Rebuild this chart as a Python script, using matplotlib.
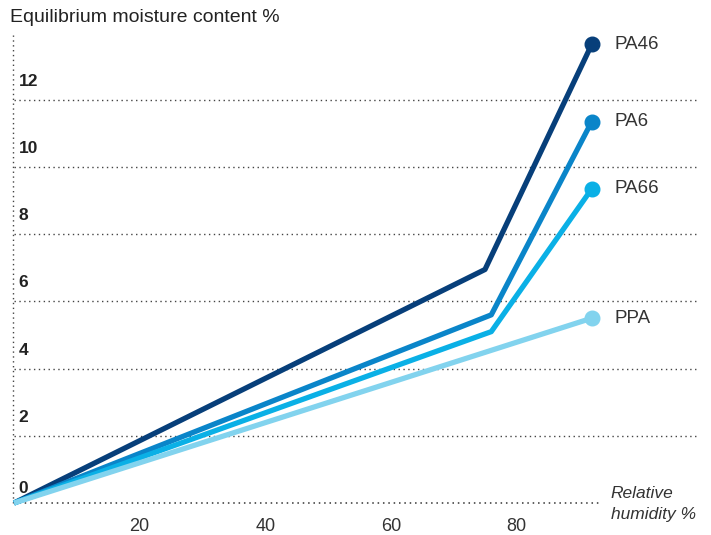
import matplotlib
matplotlib.use("Agg")
import matplotlib.pyplot as plt

plt.rcParams['font.family'] = ['Liberation Sans', 'DejaVu Sans']

# data
names = ['PA46', 'PA6', 'PA66', 'PPA']
colors = ['#073f7a', '#0a85c9', '#0ab0e6', '#82d3ee']
rh = [[0, 75, 92], [0, 76, 92], [0, 76, 92], [0, 92]]
moisture = [[0, 6.95, 13.65], [0, 5.6, 11.35], [0, 5.1, 9.35], [0, 5.5]]
y_ticks = [0, 2, 4, 6, 8, 10, 12]
x_ticks = [20, 40, 60, 80]

W, H = 711, 535
fig = plt.figure(figsize=(W / 100, H / 100), dpi=100)
x0, y0 = 14, 503
xmax, ymax = 108.8, 13.93
pxx, pxy = 6.28, 33.6
ax = fig.add_axes([x0 / W, (H - y0) / H, xmax * pxx / W, ymax * pxy / H])
ax.set_xlim(0, xmax)
ax.set_ylim(0, ymax)
for s in ax.spines.values():
    s.set_visible(False)

dot = (0, (1, 2.5))
for yv in y_ticks[1:]:
    ax.axhline(yv, color='#444444', lw=1, ls=dot, zorder=1)
    ax.text(0.7, yv + 0.55, str(yv), fontsize=12.5, fontweight='bold',
            color='#222222', va='center', ha='left')
ax.text(0.7, 0.42, '0', fontsize=12.5, fontweight='bold', color='#222222',
        va='center', ha='left')
ax.plot([0, 93.5], [0, 0], color='#333333', lw=1.1, ls=dot, zorder=2,
        clip_on=False)
ax.plot([-0.2, -0.2], [0, ymax], color='#444444', lw=1, ls=dot, zorder=1,
        clip_on=False)

for n, c, xs, ys in zip(names, colors, rh, moisture):
    ax.plot(xs, ys, color=c, lw=3.8, solid_capstyle='butt', zorder=3,
            clip_on=False)
    ax.plot(xs[-1], ys[-1], 'o', color=c, ms=10.5, zorder=4, clip_on=False)
    ax.text(xs[-1] + 3.6, ys[-1], n, fontsize=13.5, color='#333333',
            va='center', ha='left')

ax.set_yticks([])
ax.set_xticks(x_ticks)
ax.set_xticklabels([str(v) for v in x_ticks], fontsize=13, color='#333333')
ax.tick_params(axis='x', length=0, pad=11)

fig.text(10 / W, 1 - 18 / H, 'Equilibrium moisture content %', fontsize=14,
         color='#222222', va='center', ha='left')
ax.text(95, 0.5, 'Relative\nhumidity %', fontsize=12.5, style='italic',
        color='#333333', va='top', ha='left', linespacing=1.45)

fig.savefig('out.png', dpi=100)
